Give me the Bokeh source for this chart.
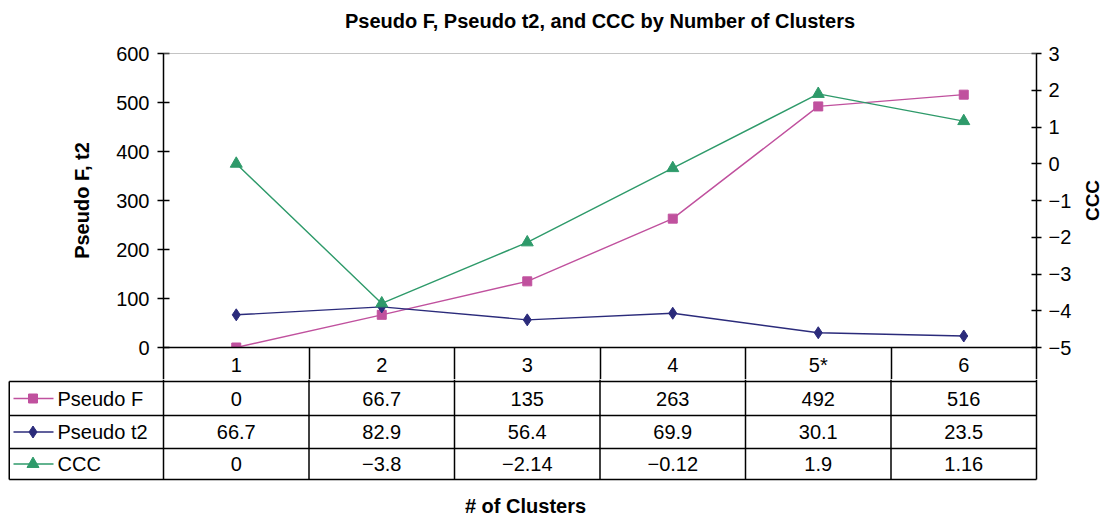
import math
from bokeh.plotting import figure
from bokeh.models import Range1d, LinearAxis, FixedTicker, Span, ColumnDataSource, Title
from bokeh.layouts import row
from bokeh.embed import file_html
from bokeh.resources import INLINE
from bokeh.core.properties import value

# ---------------- data ----------------
clusters = [1, 2, 3, 4, 5, 6]
cluster_labels = ["1", "2", "3", "4", "5*", "6"]
pseudo_f = [0, 66.7, 135, 263, 492, 516]
pseudo_t2 = [66.7, 82.9, 56.4, 69.9, 30.1, 23.5]
ccc = [0, -3.8, -2.14, -0.12, 1.9, 1.16]
series_names = ["Pseudo F", "Pseudo t2", "CCC"]
left_ticks = [0, 100, 200, 300, 400, 500, 600]
right_ticks = [-5, -4, -3, -2, -1, 0, 1, 2, 3]
title_text = "Pseudo F, Pseudo t2, and CCC by Number of Clusters"
left_title = "Pseudo F, t2"
right_title = "CCC"
x_title = "# of Clusters"

# ---------------- style ----------------
FONT = "Liberation Sans"
C_F = "#C0519E"
C_T2 = "#2B2B7B"
C_CCC = "#2E9A6A"
FS = "20px"


def fmt(v):
    return f"{v:g}".replace("-", "\u2212")


FRAME_W = 873
FRAME_H = 294
LEFT_COL = 163
TOP = 53
RIGHT = 36
RT_W = 28
HEADER_H = 32
CAT_W = FRAME_W / len(clusters)
x_lo = clusters[0] - 0.5
x_hi = clusters[-1] + 0.5

# ---------------- chart figure ----------------
pA = figure(frame_width=FRAME_W, frame_height=FRAME_H,
            x_range=Range1d(x_lo, x_hi), y_range=Range1d(0, 600),
            output_backend="svg", toolbar_location=None,
            min_border_left=LEFT_COL, min_border_right=RIGHT,
            min_border_top=TOP, min_border_bottom=HEADER_H,
            outline_line_color=None)
pA.grid.visible = False

# spacer title (closest to the frame) + main title
pA.add_layout(Title(text=" ", text_font_size="10px", standoff=4), "above")
pA.add_layout(Title(text=title_text, align="center", vertical_align="bottom", standoff=10,
                    text_font=FONT, text_font_size=FS, text_font_style="bold",
                    text_color="black"), "above")

xa = pA.xaxis[0]
xa.ticker = FixedTicker(ticks=clusters,
                        minor_ticks=[c - 0.5 for c in clusters] + [x_hi])
xa.major_label_overrides = {c: lab for c, lab in zip(clusters, cluster_labels)}
xa.major_tick_in = 0
xa.major_tick_out = 0
xa.minor_tick_in = 0
xa.minor_tick_out = HEADER_H
xa.minor_tick_line_color = "black"
xa.minor_tick_line_width = 1.5
xa.axis_line_color = "black"
xa.axis_line_width = 1.5
xa.major_label_text_font = FONT
xa.major_label_text_font_size = FS
xa.major_label_text_color = "black"
xa.major_label_standoff = 6 - HEADER_H

ya = pA.yaxis[0]
ya.ticker = FixedTicker(ticks=left_ticks, minor_ticks=[])
ya.axis_label = left_title
ya.axis_label_text_font = FONT
ya.axis_label_text_font_size = FS
ya.axis_label_text_font_style = "bold"
ya.axis_label_text_color = "black"
ya.axis_label_standoff = 20
ya.major_label_text_font = FONT
ya.major_label_text_font_size = FS
ya.major_label_text_color = "black"
ya.major_label_standoff = 8
ya.major_tick_in = 6
ya.major_tick_out = 6
ya.major_tick_line_color = "black"
ya.major_tick_line_width = 1.5
ya.axis_line_color = "black"
ya.axis_line_width = 1.5

pA.extra_y_ranges = {"ccc": Range1d(right_ticks[0], right_ticks[-1])}
ra = LinearAxis(y_range_name="ccc",
                ticker=FixedTicker(ticks=right_ticks, minor_ticks=[]),
                major_label_overrides={t: fmt(t) for t in right_ticks})
ra.major_label_text_font = FONT
ra.major_label_text_font_size = FS
ra.major_label_text_color = "black"
ra.major_label_standoff = 7
ra.major_tick_in = 5
ra.major_tick_out = 5
ra.major_tick_line_color = "black"
ra.major_tick_line_width = 1.5
ra.axis_line_color = "black"
ra.axis_line_width = 1.5
pA.add_layout(ra, "right")

pA.add_layout(Span(location=600, dimension="width", line_color="#8a8a8a", line_width=1))

src = ColumnDataSource(dict(x=clusters, f=pseudo_f, t2=pseudo_t2, ccc=ccc))
pA.line("x", "f", source=src, line_color=C_F, line_width=1.4)
pA.scatter("x", "f", source=src, marker="square", size=9, fill_color=C_F, line_color=C_F)
pA.line("x", "t2", source=src, line_color=C_T2, line_width=1.4)
pA.scatter("x", "t2", source=src, marker="diamond", size=12, fill_color=C_T2, line_color=C_T2)
pA.line("x", "ccc", source=src, line_color=C_CCC, line_width=1.4, y_range_name="ccc")
pA.scatter("x", "ccc", source=src, marker="triangle", size=12, fill_color=C_CCC,
           line_color=C_CCC, y_range_name="ccc")

# ---------------- right axis title strip ----------------
pC = figure(frame_width=RT_W, frame_height=FRAME_H,
            x_range=Range1d(0, RT_W), y_range=Range1d(right_ticks[0], right_ticks[-1]),
            output_backend="svg", toolbar_location=None,
            min_border_left=0, min_border_right=0,
            min_border_top=TOP, min_border_bottom=HEADER_H,
            x_axis_location=None, y_axis_location=None, outline_line_color=None)
pC.grid.visible = False
pC.text(x=[18], y=[(right_ticks[0] + right_ticks[-1]) / 2], text=[right_title],
        angle=math.pi / 2, text_align="center", text_baseline="middle",
        text_font=value(FONT), text_font_size="19px", text_font_style="bold",
        text_color="black")

# ---------------- data table figure ----------------
TB_H = 137
EXTRA_R = 4
xb0 = x_lo - LEFT_COL / CAT_W
pB = figure(frame_width=LEFT_COL + FRAME_W + EXTRA_R, frame_height=TB_H,
            x_range=Range1d(xb0, x_hi + EXTRA_R / CAT_W), y_range=Range1d(TB_H, 0),
            output_backend="svg", toolbar_location=None, min_border=0,
            x_axis_location=None, y_axis_location=None, outline_line_color=None)
pB.grid.visible = False


def px(page_x):
    return xb0 + page_x / CAT_W


row_lines = [2, 36, 69, 100]
row_centers = [19, 52.5, 84.5]
left_edge = px(8.75)

pB.segment(x0=[left_edge] * len(row_lines), x1=[x_hi] * len(row_lines),
           y0=row_lines, y1=row_lines, line_color="black", line_width=1.5)
vx = [c - 0.5 for c in clusters] + [x_hi]
pB.segment(x0=vx, x1=vx, y0=[0] * len(vx), y1=[row_lines[-1]] * len(vx),
           line_color="black", line_width=1.5)
pB.segment(x0=[left_edge], x1=[left_edge], y0=[row_lines[0]], y1=[row_lines[-1]],
           line_color="black", line_width=1.5)

rows = [
    (series_names[0], pseudo_f, C_F, "square", 9),
    (series_names[1], pseudo_t2, C_T2, "diamond", 12),
    (series_names[2], ccc, C_CCC, "triangle", 12),
]
for (name, vals, col, mk, sz), yc in zip(rows, row_centers):
    pB.text(x=clusters, y=[yc] * len(clusters), text=[fmt(v) for v in vals],
            text_align="center", text_baseline="middle",
            text_font=value(FONT), text_font_size=FS, text_color="black")
    pB.segment(x0=[px(13)], x1=[px(53)], y0=[yc], y1=[yc], line_color=col, line_width=1.4)
    pB.scatter(x=[px(32.5)], y=[yc], marker=mk, size=sz, fill_color=col, line_color=col)
    pB.text(x=[px(57)], y=[yc], text=[name], text_align="left", text_baseline="middle",
            text_font=value(FONT), text_font_size=FS, text_color="black")

pB.text(x=[px(525)], y=[126], text=[x_title], text_align="center",
        text_baseline="middle", text_font=value(FONT), text_font_size=FS,
        text_font_style="bold", text_color="black")

top_row = row(pA, pC, spacing=0)
open("out.html", "w").write(file_html([top_row, pB], INLINE))
